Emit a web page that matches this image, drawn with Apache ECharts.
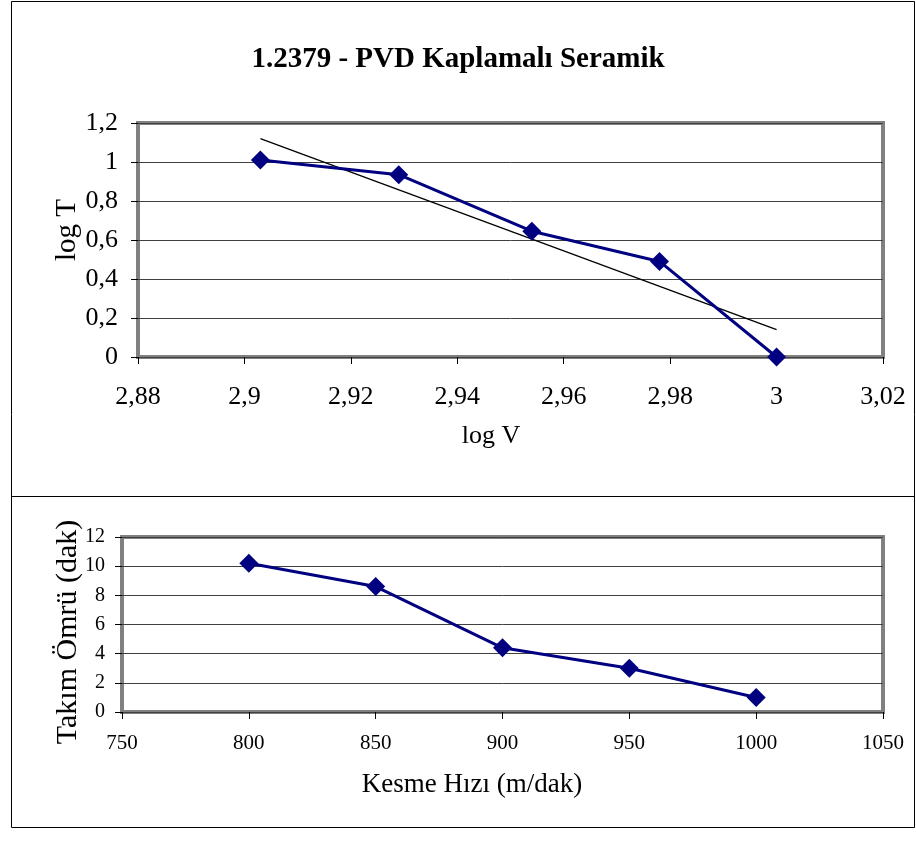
<!DOCTYPE html>
<html>
<head>
<meta charset="utf-8">
<script src="https://cdn.jsdelivr.net/npm/echarts@6/dist/echarts.min.js"></script>
<style>html,body{margin:0;padding:0;background:#fff}#c{width:916px;height:843px}</style>
</head>
<body>
<div id="c"></div>
<script>
var titleText = '1.2379 - PVD Kaplamalı Seramik';
var topXName = 'log V';
var topYName = 'log T';
var botXName = 'Kesme Hızı (m/dak)';
var botYName = 'Takım Ömrü (dak)';
var logV = [2.903, 2.929, 2.954, 2.978, 3.0];
var logT = [1.01, 0.935, 0.645, 0.49, 0.0];
var trendLine = [[2.903, 1.12], [3.0, 0.14]];
var speed = [800, 850, 900, 950, 1000];
var toolLife = [10.2, 8.6, 4.4, 3.0, 1.0];

var FONT = '"Liberation Serif", "Times New Roman", serif';
function comma(v){ return String(Number(v.toFixed(3))).replace('.', ','); }
function plain(v){ return String(v); }

var chart = echarts.init(document.getElementById('c'));
function ax(o){
  var base = {
    type: 'value',
    axisLine: {show: false},
    axisTick: {show: true, length: 7, lineStyle: {color: '#000', width: 1}},
    splitLine: {show: false}
  };
  return Object.assign(base, o);
}
function nameText(text, x, y, size, rotated){
  return {type: 'text', x: x, y: y, rotation: rotated ? Math.PI / 2 : 0,
    style: {text: text, fontFamily: FONT, fontSize: size, fill: '#000', align: 'center', verticalAlign: 'middle'}};
}

chart.setOption({
  animation: false,
  backgroundColor: '#fff',
  title: {
    text: titleText, left: 'center', top: 40,
    textStyle: {fontFamily: FONT, fontWeight: 'bold', fontSize: 29, color: '#000'}
  },
  graphic: [
    {type: 'rect', shape: {x: 11.5, y: 1.5, width: 903, height: 826}, style: {fill: 'none', stroke: '#000', lineWidth: 1}, z: -1},
    {type: 'line', shape: {x1: 11.5, y1: 496.5, x2: 914.5, y2: 496.5}, style: {stroke: '#000', lineWidth: 1}, z: -1},
    nameText(topXName, 491, 436, 26, false),
    nameText(topYName, 67, 230, 29, true),
    nameText(botXName, 472, 785, 27, false),
    nameText(botYName, 68, 632, 30, true)
  ],
  grid: [
    {left: 138, top: 123, width: 745, height: 234, show: true, borderColor: '#808080', borderWidth: 4, backgroundColor: '#fff'},
    {left: 122, top: 537, width: 761, height: 175, show: true, borderColor: '#808080', borderWidth: 4, backgroundColor: '#fff'}
  ],
  xAxis: [
    ax({gridIndex: 0, min: 2.88, max: 3.02, interval: 0.02,
      axisLabel: {color: '#000', fontFamily: FONT, fontSize: 26, margin: 27, formatter: comma}}),
    ax({gridIndex: 1, min: 750, max: 1050, interval: 50,
      axisLabel: {color: '#000', fontFamily: FONT, fontSize: 21, margin: 21, formatter: plain}})
  ],
  yAxis: [
    ax({gridIndex: 0, min: 0, max: 1.2, interval: 0.2,
      splitLine: {show: true, lineStyle: {color: '#404040', width: 1}},
      axisLabel: {color: '#000', fontFamily: FONT, fontSize: 26, margin: 20, formatter: comma}}),
    ax({gridIndex: 1, min: 0, max: 12, interval: 2,
      splitLine: {show: true, lineStyle: {color: '#404040', width: 1}},
      axisLabel: {color: '#000', fontFamily: FONT, fontSize: 20, margin: 17, formatter: plain}})
  ],
  series: [
    {type: 'line', xAxisIndex: 0, yAxisIndex: 0, data: trendLine, symbol: 'none',
      lineStyle: {color: '#000', width: 1.3}, z: 3, silent: true},
    {type: 'line', xAxisIndex: 0, yAxisIndex: 0, data: logV.map(function(v,i){return [v, logT[i]];}),
      symbol: 'diamond', symbolSize: 19, itemStyle: {color: '#000080'},
      lineStyle: {color: '#000080', width: 3}, z: 4},
    {type: 'line', xAxisIndex: 1, yAxisIndex: 1, data: speed.map(function(v,i){return [v, toolLife[i]];}),
      symbol: 'diamond', symbolSize: 19, itemStyle: {color: '#000080'},
      lineStyle: {color: '#000080', width: 3}, z: 4}
  ]
});
</script>
</body>
</html>
